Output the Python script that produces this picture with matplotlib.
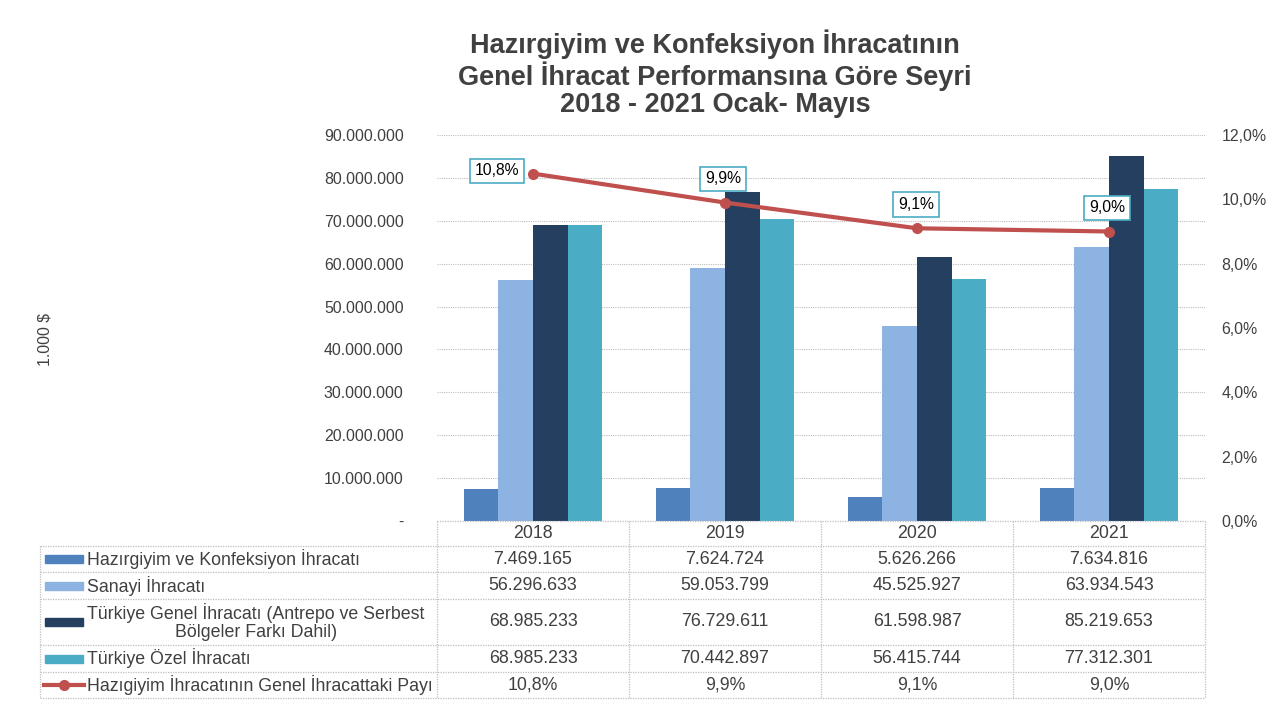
import numpy as np
import matplotlib
matplotlib.use("Agg")
import matplotlib.pyplot as plt
from matplotlib.lines import Line2D
from matplotlib.patches import Rectangle

plt.rcParams['font.family'] = ['Liberation Sans', 'DejaVu Sans']

# ================= DATA =================
years = ["2018", "2019", "2020", "2021"]
hazirgiyim = [7469165, 7624724, 5626266, 7634816]
sanayi = [56296633, 59053799, 45525927, 63934543]
genel = [68985233, 76729611, 61598987, 85219653]
ozel = [68985233, 70442897, 56415744, 77312301]
pay = [10.8, 9.9, 9.1, 9.0]

series_names = ["Hazırgiyim ve Konfeksiyon İhracatı",
                "Sanayi İhracatı",
                "Türkiye Genel İhracatı (Antrepo ve Serbest\nBölgeler Farkı Dahil)",
                "Türkiye Özel İhracatı"]
line_name = "Hazıgiyim İhracatının Genel İhracattaki Payı"
colors = ["#4f81bd", "#8db3e2", "#243f60", "#4bacc6"]
line_color = "#c0504d"
text_color = "#404040"

W, H = 1277, 708


def fx(x):
    return x / W


def fy(y):
    return 1 - y / H


def fmt_num(v):
    return f"{v:,}".replace(",", ".")


def fmt_pct(v):
    return f"{v:.1f}%".replace(".", ",")


fig = plt.figure(figsize=(W / 100, H / 100), dpi=100)

# plot area
ax = fig.add_axes([fx(437), fy(521), fx(1205) - fx(437), (521 - 135) / H])
x = np.arange(len(years))
bw = 0.18
all_series = [hazirgiyim, sanayi, genel, ozel]
for i, (vals, c) in enumerate(zip(all_series, colors)):
    ax.bar(x + (i - 1.5) * bw, vals, bw, color=c, zorder=3)

ax.set_xlim(-0.5, 3.5)
ax.set_ylim(0, 90000000)
ax.set_yticks(np.arange(0, 90000001, 10000000))
ax.set_yticklabels(["-"] + [fmt_num(v) for v in range(10000000, 90000001, 10000000)])
ax.yaxis.grid(True, color="#bfbfbf", linestyle=(0, (1, 1)), linewidth=0.8, zorder=0)
ax.set_xticks([])
for s in ax.spines.values():
    s.set_visible(False)
ax.tick_params(axis="y", length=0, pad=24, labelsize=11.4, labelcolor=text_color)

ax2 = ax.twinx()
ax2.plot(x, pay, color=line_color, linewidth=3, marker="o", markersize=7, zorder=5)
ax2.set_ylim(0, 12)
ax2.set_yticks(np.arange(0, 12.1, 2))
ax2.set_yticklabels([fmt_pct(v) for v in np.arange(0, 12.1, 2)])
ax2.tick_params(axis="y", length=0, pad=12, labelsize=11.4, labelcolor=text_color)
for s in ax2.spines.values():
    s.set_visible(False)
label_offsets = [(-26, 2), (-1.5, 17), (-0.7, 17), (-1.5, 17)]
for xi, p, off in zip(x, pay, label_offsets):
    ax2.annotate(fmt_pct(p), (xi, p), xytext=off, textcoords="offset points",
                 ha="center", va="center", fontsize=11.3, color="black", zorder=6,
                 bbox=dict(boxstyle="square,pad=0.3", fc="white", ec="#4bacc6", lw=1.2))

# title
fig.text(fx(715), fy(74), "Hazırgiyim ve Konfeksiyon İhracatının\nGenel İhracat Performansına Göre Seyri\n2018 - 2021 Ocak- Mayıs",
         ha="center", va="center", fontsize=19.5, fontweight="bold", color=text_color, linespacing=1.07)

fig.text(fx(45), fy(340), "1.000 $", rotation=90, ha="center", va="center", fontsize=11.4, color=text_color)

# ================= TABLE =================
col_x = [40, 437, 629, 821, 1013, 1205]
row_y = [521, 546, 572, 599, 645, 672, 698]
grid_kw = dict(color="#bfbfbf", linestyle=(0, (1, 1)), linewidth=0.9, transform=fig.transFigure)
tfs = 12.8

# horizontal lines
fig.add_artist(Line2D([fx(437), fx(1205)], [fy(521), fy(521)], **grid_kw))
for y in row_y[1:]:
    fig.add_artist(Line2D([fx(40), fx(1205)], [fy(y), fy(y)], **grid_kw))
# vertical lines
fig.add_artist(Line2D([fx(40), fx(40)], [fy(546), fy(698)], **grid_kw))
for xc in col_x[1:]:
    fig.add_artist(Line2D([fx(xc), fx(xc)], [fy(521), fy(698)], **grid_kw))

# header years
for j, yr in enumerate(years):
    cx = (col_x[j + 1] + col_x[j + 2]) / 2
    fig.text(fx(cx), fy(534), yr, ha="center", va="center", fontsize=tfs, color=text_color)

rows_vals = [[fmt_num(v) for v in s] for s in all_series] + [[fmt_pct(v) for v in pay]]
names = series_names + [line_name]
for r in range(5):
    cy = (row_y[r + 1] + row_y[r + 2]) / 2
    if r < 4:
        fig.add_artist(Rectangle((fx(45), fy(cy + 4)), fx(83) - fx(45), 8 / H,
                                 color=colors[r], transform=fig.transFigure))
    else:
        fig.add_artist(Line2D([fx(44), fx(84)], [fy(cy), fy(cy)], color=line_color, lw=3,
                              transform=fig.transFigure))
        fig.add_artist(Line2D([fx(64)], [fy(cy)], color=line_color, marker="o", markersize=7,
                              transform=fig.transFigure))
    fig.text(fx(87), fy(cy), names[r], ha="left", va="center", fontsize=tfs,
             color=text_color, multialignment="center", linespacing=1.12)
    for j in range(4):
        cx = (col_x[j + 1] + col_x[j + 2]) / 2
        fig.text(fx(cx), fy(cy), rows_vals[r][j], ha="center", va="center", fontsize=tfs, color=text_color)

fig.savefig("out.png", dpi=100)
